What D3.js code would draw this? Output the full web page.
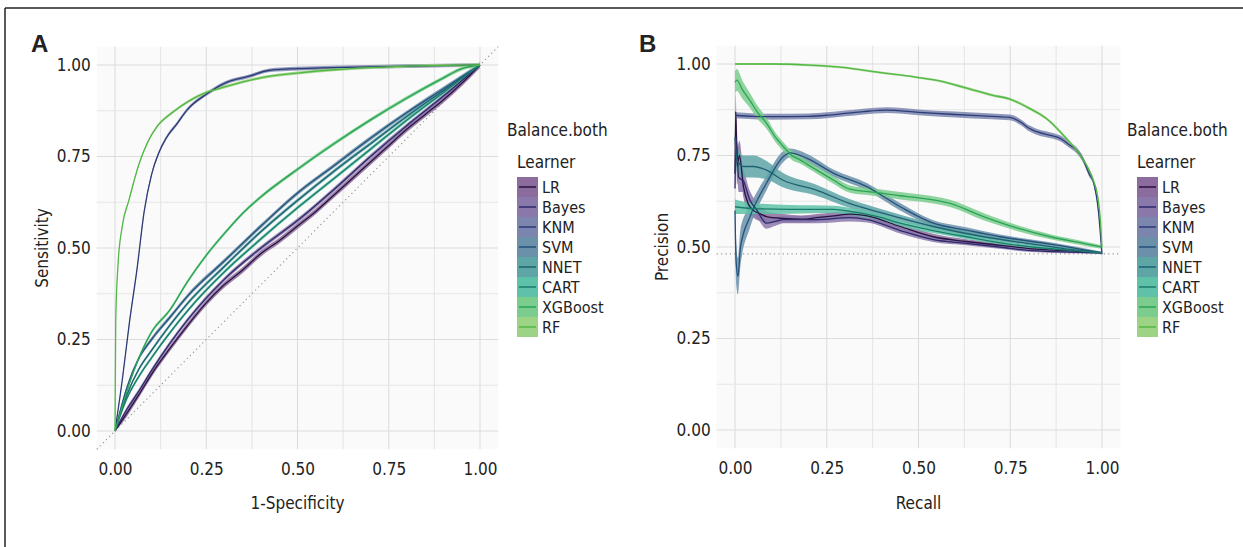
<!DOCTYPE html>
<html><head><meta charset="utf-8">
<script src="https://cdn.jsdelivr.net/npm/d3@7"></script>
<style>
html,body{margin:0;padding:0;background:#fff;}
svg text{font-family:"Liberation Sans Narrow","DejaVu Sans Condensed","Roboto",sans-serif;font-stretch:condensed;fill:#222;}
</style></head>
<body><svg id="c" width="1243" height="547"></svg>
<script>
// ---------- data ----------
const learners = ["LR","Bayes","KNM","SVM","NNET","CART","XGBoost","RF"];
const lineColors = ["#2a1242","#2e2a6c","#2c3d78","#24527a","#1d6272","#1a7d6c","#2aa457","#53b848"];
const fillColors = ["#8c6c9c","#8a78ab","#7b85ae","#6b90aa","#5ea5a6","#5fc1a7","#7bcc8d","#9dd384"];
const tickValues = [0,0.25,0.5,0.75,1];
const tickLabels = ["0.00","0.25","0.50","0.75","1.00"];
const prBaseline = 0.481;

// ROC curves: [1-specificity, sensitivity]
const rocLR = [[0,0],[0.02,0.03],[0.066,0.1],[0.1,0.155],[0.15,0.225],[0.2,0.29],[0.25,0.35],[0.3,0.4],[0.35,0.44],[0.4,0.485],[0.45,0.52],[0.5,0.56],[0.55,0.6],[0.6,0.645],[0.65,0.69],[0.7,0.735],[0.75,0.78],[0.8,0.825],[0.85,0.865],[0.9,0.905],[0.95,0.95],[1,1]];
const rocBayes = [[0,0],[0.033,0.06],[0.066,0.11],[0.1,0.165],[0.2,0.305],[0.3,0.415],[0.4,0.5],[0.5,0.575],[0.6,0.66],[0.7,0.75],[0.8,0.835],[0.9,0.915],[1,1]];
const rocKNM = [[0,0],[0.02,0.14],[0.04,0.3],[0.06,0.44],[0.08,0.6],[0.1,0.7],[0.12,0.76],[0.14,0.8],[0.17,0.84],[0.2,0.88],[0.25,0.92],[0.3,0.95],[0.37,0.97],[0.42,0.985],[0.5,0.99],[0.6,0.993],[0.8,0.997],[1,1]];
const rocSVM = [[0,0],[0.033,0.12],[0.066,0.2],[0.1,0.25],[0.15,0.31],[0.2,0.37],[0.3,0.465],[0.4,0.56],[0.5,0.65],[0.6,0.725],[0.7,0.8],[0.8,0.87],[0.9,0.935],[1,1]];
const rocNNET = [[0,0],[0.033,0.1],[0.066,0.17],[0.1,0.22],[0.2,0.35],[0.3,0.45],[0.4,0.545],[0.5,0.63],[0.6,0.71],[0.7,0.785],[0.8,0.86],[0.9,0.93],[1,1]];
const rocCART = [[0,0],[0.033,0.09],[0.066,0.15],[0.1,0.2],[0.2,0.33],[0.3,0.435],[0.4,0.525],[0.5,0.61],[0.6,0.69],[0.7,0.77],[0.8,0.85],[0.9,0.925],[1,1]];
const rocXGB = [[0,0],[0.05,0.16],[0.1,0.27],[0.15,0.33],[0.2,0.41],[0.25,0.48],[0.3,0.54],[0.35,0.595],[0.4,0.64],[0.5,0.715],[0.6,0.785],[0.7,0.85],[0.8,0.91],[0.9,0.965],[0.95,0.99],[1,1]];
const rocRF = [[0,0],[0.002,0.3],[0.008,0.45],[0.02,0.56],[0.038,0.63],[0.066,0.73],[0.09,0.79],[0.114,0.83],[0.157,0.87],[0.2,0.9],[0.25,0.925],[0.3,0.94],[0.4,0.965],[0.5,0.978],[0.6,0.987],[0.7,0.993],[0.8,0.997],[0.9,0.999],[1,1]];
const rocBand = [0.008,0.006,0.005,0.006,0.005,0.005,0.005,0.004];

// PR curves: [recall, precision, band half-width]
const prLR = [[0,0.7,0.05],[0.002,0.87,0.05],[0.006,0.72,0.05],[0.012,0.75,0.04],[0.023,0.665,0.03],[0.035,0.62,0.025],[0.05,0.6,0.02],[0.07,0.59,0.02],[0.086,0.583,0.015],[0.132,0.578,0.012],[0.18,0.576,0.01],[0.223,0.58,0.01],[0.27,0.585,0.01],[0.313,0.59,0.01],[0.36,0.585,0.01],[0.45,0.556,0.008],[0.54,0.528,0.008],[0.63,0.515,0.006],[0.72,0.505,0.005],[0.81,0.495,0.004],[0.9,0.49,0.004],[1,0.484,0.003]];
const prBayes = [[0,0.66,0.05],[0.003,0.8,0.05],[0.01,0.69,0.04],[0.023,0.68,0.03],[0.04,0.63,0.025],[0.06,0.6,0.02],[0.086,0.565,0.015],[0.11,0.57,0.012],[0.132,0.575,0.01],[0.223,0.575,0.01],[0.313,0.58,0.01],[0.36,0.575,0.008],[0.45,0.545,0.008],[0.54,0.52,0.006],[0.63,0.51,0.005],[0.72,0.5,0.005],[0.81,0.49,0.004],[1,0.484,0.003]];
const prKNM = [[0,0.86,0.008],[0.05,0.857,0.008],[0.1,0.856,0.008],[0.2,0.857,0.008],[0.25,0.86,0.008],[0.3,0.865,0.008],[0.35,0.87,0.008],[0.413,0.874,0.008],[0.5,0.868,0.008],[0.6,0.862,0.008],[0.7,0.857,0.008],[0.749,0.854,0.008],[0.78,0.84,0.008],[0.8,0.825,0.008],[0.822,0.815,0.008],[0.86,0.805,0.008],[0.886,0.797,0.008],[0.91,0.78,0.008],[0.93,0.765,0.008],[0.949,0.738,0.008],[0.965,0.7,0.008],[0.976,0.68,0.008],[0.99,0.6,0.008],[1,0.48,0.006]];
const prSVM = [[0,0.6,0.06],[0.003,0.46,0.06],[0.008,0.42,0.05],[0.015,0.5,0.05],[0.041,0.583,0.03],[0.086,0.675,0.02],[0.132,0.747,0.015],[0.15,0.757,0.012],[0.195,0.743,0.012],[0.268,0.702,0.01],[0.359,0.665,0.01],[0.45,0.61,0.01],[0.54,0.565,0.008],[0.63,0.546,0.008],[0.722,0.528,0.006],[0.859,0.508,0.005],[1,0.484,0.003]];
const prNNET = [[0,0.8,0.04],[0.005,0.74,0.035],[0.023,0.72,0.03],[0.05,0.72,0.03],[0.086,0.71,0.025],[0.13,0.683,0.02],[0.22,0.656,0.015],[0.31,0.62,0.012],[0.4,0.593,0.01],[0.54,0.556,0.008],[0.677,0.528,0.006],[0.81,0.508,0.005],[0.9,0.495,0.004],[1,0.484,0.003]];
const prCART = [[0,0.61,0.02],[0.05,0.605,0.015],[0.15,0.603,0.012],[0.268,0.603,0.01],[0.322,0.596,0.01],[0.4,0.58,0.008],[0.45,0.565,0.008],[0.54,0.545,0.007],[0.63,0.528,0.006],[0.72,0.512,0.005],[0.81,0.5,0.004],[0.9,0.492,0.004],[1,0.484,0.003]];
const prXGB = [[0,0.95,0.03],[0.005,0.956,0.03],[0.02,0.93,0.025],[0.041,0.9,0.02],[0.06,0.87,0.018],[0.086,0.838,0.015],[0.11,0.8,0.013],[0.132,0.774,0.012],[0.155,0.75,0.012],[0.177,0.738,0.01],[0.223,0.71,0.01],[0.268,0.683,0.01],[0.313,0.658,0.01],[0.377,0.65,0.01],[0.45,0.64,0.01],[0.495,0.635,0.01],[0.586,0.619,0.01],[0.677,0.583,0.01],[0.768,0.552,0.008],[0.859,0.528,0.007],[0.949,0.51,0.006],[1,0.5,0.005]];
const prRF = [[0,1,0.003],[0.1,1,0.003],[0.2,0.997,0.003],[0.3,0.99,0.003],[0.377,0.979,0.003],[0.45,0.97,0.003],[0.5,0.963,0.003],[0.55,0.955,0.003],[0.631,0.934,0.004],[0.7,0.915,0.004],[0.749,0.904,0.004],[0.8,0.88,0.004],[0.85,0.85,0.004],[0.904,0.795,0.005],[0.93,0.765,0.005],[0.949,0.738,0.005],[0.965,0.71,0.005],[0.976,0.683,0.006],[0.988,0.64,0.006],[0.995,0.583,0.006],[1,0.5,0.006]];

const rocCurves = [rocLR,rocBayes,rocKNM,rocSVM,rocNNET,rocCART,rocXGB,rocRF];
const prCurves = [prLR,prBayes,prKNM,prSVM,prNNET,prCART,prXGB,prRF];

// ---------- drawing ----------
const svg = d3.select("#c");
svg.append("line").attr("x1",5).attr("x2",1243).attr("y1",8).attr("y2",8).attr("stroke","#222").attr("stroke-width",1.5);
svg.append("line").attr("x1",5).attr("x2",5).attr("y1",8).attr("y2",547).attr("stroke","#222").attr("stroke-width",1.5);

function panel(opt){
  const x = d3.scaleLinear().domain([0,1]).range(opt.xr);
  const y = d3.scaleLinear().domain([0,1]).range(opt.yr);
  const g = svg.append("g");
  const xlo = x(-0.05), xhi = x(1.05), ylo = y(-0.05), yhi = y(1.05);
  g.append("rect").attr("x",xlo).attr("y",yhi).attr("width",xhi-xlo).attr("height",ylo-yhi).attr("fill","#fafafa");
  const grid = d3.range(0,1.0001,0.125);
  g.selectAll(".vg").data(grid).join("line").attr("x1",d=>x(d)).attr("x2",d=>x(d)).attr("y1",yhi).attr("y2",ylo)
    .attr("stroke",(d,i)=>i%2?"#e6e6e6":"#dcdcdc").attr("stroke-width",1.1);
  g.selectAll(".hg").data(grid).join("line").attr("y1",d=>y(d)).attr("y2",d=>y(d)).attr("x1",xlo).attr("x2",xhi)
    .attr("stroke",(d,i)=>i%2?"#e6e6e6":"#dcdcdc").attr("stroke-width",1.1);
  const ax = d3.axisBottom(x).tickValues(tickValues).tickFormat((d,i)=>tickLabels[i]).tickSize(0).tickPadding(0);
  const xa = g.append("g").attr("transform",`translate(0,${ylo+14})`).call(ax);
  xa.select(".domain").remove();
  xa.selectAll("text").attr("font-size",17).attr("dy","0.71em").attr("fill","#222");
  const ay = d3.axisLeft(y).tickValues(tickValues).tickFormat((d,i)=>tickLabels[i]).tickSize(0).tickPadding(0);
  const ya = g.append("g").attr("transform",`translate(${xlo-6},0)`).call(ay);
  ya.select(".domain").remove();
  ya.selectAll("text").attr("font-size",17).attr("fill","#222");
  g.append("text").attr("x",(x(0)+x(1))/2).attr("y",509).attr("text-anchor","middle").attr("font-size",17).text(opt.xlab);
  g.append("text").attr("transform",`translate(${opt.ylabX},${(y(0)+y(1))/2}) rotate(-90)`).attr("text-anchor","middle").attr("font-size",17).text(opt.ylab);
  g.append("text").attr("x",opt.tagX).attr("y",52).attr("font-size",24).attr("font-weight","bold")
    .style("font-family","'Liberation Sans','Arial',sans-serif").style("font-stretch","normal").attr("fill","#0f2f66").text(opt.tag);
  if(opt.kind==="roc"){
    g.append("line").attr("x1",x(-0.05)).attr("y1",y(-0.05)).attr("x2",x(1.05)).attr("y2",y(1.05))
      .attr("stroke","#999").attr("stroke-width",1.2).attr("stroke-dasharray","1.2,3.2");
  } else {
    g.append("line").attr("x1",xlo).attr("x2",xhi).attr("y1",y(prBaseline)).attr("y2",y(prBaseline))
      .attr("stroke","#999").attr("stroke-width",1.2).attr("stroke-dasharray","1.2,3.2");
  }
  const clipId = "clip"+opt.kind;
  svg.append("clipPath").attr("id",clipId).append("rect").attr("x",xlo).attr("y",yhi).attr("width",xhi-xlo).attr("height",ylo-yhi);
  const cg = g.append("g").attr("clip-path",`url(#${clipId})`);
  const curves = opt.curves;
  curves.forEach((c,i)=>{
    const band = opt.kind==="roc" ? (p=>rocBand[i]) : (p=>p[2]);
    const area = d3.area().curve(d3.curveMonotoneX).x(p=>x(p[0])).y0(p=>y(Math.max(0,p[1]-band(p)))).y1(p=>y(Math.min(1.02,p[1]+band(p))));
    cg.append("path").attr("d",area(c)).attr("fill",fillColors[i]).attr("fill-opacity",0.85);
  });
  curves.forEach((c,i)=>{
    const line = d3.line().curve(d3.curveMonotoneX).x(p=>x(p[0])).y(p=>y(p[1]));
    cg.append("path").attr("d",line(c)).attr("fill","none").attr("stroke",lineColors[i]).attr("stroke-width",1.3).attr("stroke-linejoin","round");
  });
  const lg = svg.append("g");
  lg.append("text").attr("x",opt.legX).attr("y",136).attr("font-size",17).text("Balance.both");
  lg.append("text").attr("x",opt.legX+10).attr("y",168).attr("font-size",17).text("Learner");
  const ky = d3.scaleBand().domain(learners).range([177,337]);
  learners.forEach((l,i)=>{
    const kx = opt.legX+10;
    lg.append("rect").attr("x",kx).attr("y",ky(l)).attr("width",21).attr("height",ky.bandwidth()).attr("fill",fillColors[i]);
    lg.append("line").attr("x1",kx+2).attr("x2",kx+19).attr("y1",ky(l)+ky.bandwidth()/2).attr("y2",ky(l)+ky.bandwidth()/2)
      .attr("stroke",lineColors[i]).attr("stroke-width",1.5);
    lg.append("text").attr("x",kx+25).attr("y",ky(l)+ky.bandwidth()/2).attr("dy","0.36em").attr("font-size",16).text(l);
  });
}

panel({kind:"roc",xr:[115,480],yr:[431,65],xlab:"1-Specificity",ylab:"Sensitivity",ylabX:48,tag:"A",tagX:31,legX:507,curves:rocCurves});
panel({kind:"pr",xr:[735,1102],yr:[430,64],xlab:"Recall",ylab:"Precision",ylabX:668,tag:"B",tagX:639,legX:1127,curves:prCurves});
</script></body></html>
